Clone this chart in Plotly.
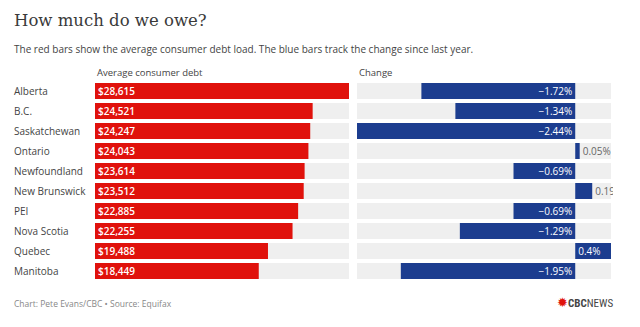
import plotly.graph_objects as go

provinces = ["Alberta", "B.C.", "Saskatchewan", "Ontario", "Newfoundland",
             "New Brunswick", "PEI", "Nova Scotia", "Quebec", "Manitoba"]
debt = [28615, 24521, 24247, 24043, 23614, 23512, 22885, 22255, 19488, 18449]
change = [-1.72, -1.34, -2.44, 0.05, -0.69, 0.19, -0.69, -1.29, 0.4, -1.95]

title = "How much do we owe?"
subtitle = "The red bars show the average consumer debt load. The blue bars track the change since last year."
header_left = "Average consumer debt"
header_right = "Change"
footer = "Chart: Pete Evans/CBC • Source: Equifax"

W, H = 640, 327
RED = "#e0120c"
BLUE = "#1c3d8f"
BG = "#efefef"
FONT = "Open Sans"


def py(y):
    return 1 - y / H


def fmt_pct(v):
    s = f"{abs(v):.2f}".rstrip("0").rstrip(".") if abs(v) * 100 % 10 == 0 else f"{abs(v):.2f}"
    return ("\u2212" if v < 0 else "") + s + "%"


debt_text = [f"${v:,}" for v in debt]
change_text = [fmt_pct(v) for v in change]
change_pos = ["outside" if 0 < v < 0.3 else "inside" for v in change]

cmin, cmax = min(change), max(change)

fig = go.Figure()

# background bars (left)
fig.add_trace(go.Bar(y=provinces, x=[max(debt)] * len(provinces), orientation="h",
                     marker=dict(color=BG, line=dict(width=0)), width=0.8,
                     hoverinfo="skip", xaxis="x", yaxis="y"))
fig.add_trace(go.Bar(y=provinces, x=debt, orientation="h",
                     marker=dict(color=RED, line=dict(width=0)), width=0.8,
                     text=debt_text, textposition="inside", insidetextanchor="start",
                     insidetextfont=dict(color="white", size=10, family=FONT, weight=600),
                     constraintext="none", xaxis="x", yaxis="y"))

# background bars (right)
fig.add_trace(go.Bar(y=provinces, x=[cmax - cmin] * len(provinces), base=cmin,
                     orientation="h", marker=dict(color=BG, line=dict(width=0)), width=0.8,
                     hoverinfo="skip", xaxis="x2", yaxis="y"))
fig.add_trace(go.Bar(y=provinces, x=change, orientation="h",
                     marker=dict(color=BLUE, line=dict(width=0)), width=0.8,
                     text=change_text, textposition=change_pos, insidetextanchor="start",
                     insidetextfont=dict(color="white", size=10, family=FONT),
                     outsidetextfont=dict(color="#666666", size=10, family=FONT),
                     constraintext="none", cliponaxis=True, xaxis="x2", yaxis="y"))

scale = (611 - 357) / (cmax - cmin)
x2_end = 613

annotations = []
for p in provinces:
    annotations.append(dict(x=12 / W, xref="paper", xanchor="left", y=p, yref="y",
                            yanchor="middle", text=p, showarrow=False,
                            font=dict(size=10, color="#444444", family=FONT)))

annotations += [
    dict(x=12 / W, y=py(20), xref="paper", yref="paper", xanchor="left", yanchor="middle",
         text=title, showarrow=False,
         font=dict(size=16.5, color="#3a3a3a", family="DejaVu Serif")),
    dict(x=12 / W, y=py(49), xref="paper", yref="paper", xanchor="left", yanchor="middle",
         text=subtitle, showarrow=False,
         font=dict(size=10, color="#444444", family=FONT)),
    dict(x=95 / W, y=py(72), xref="paper", yref="paper", xanchor="left", yanchor="middle",
         text=header_left, showarrow=False,
         font=dict(size=9.5, color="#444444", family=FONT)),
    dict(x=357 / W, y=py(72), xref="paper", yref="paper", xanchor="left", yanchor="middle",
         text=header_right, showarrow=False,
         font=dict(size=9.5, color="#444444", family=FONT)),
    dict(x=12 / W, y=py(303), xref="paper", yref="paper", xanchor="left", yanchor="middle",
         text=footer, showarrow=False,
         font=dict(size=8.5, color="#888888", family=FONT)),
    dict(x=615 / W, y=py(302), xref="paper", yref="paper", xanchor="right", yanchor="middle",
         text="<span style='color:#e0120c;font-size:13px'>\u2739</span><b>CBC</b>NEWS",
         showarrow=False,
         font=dict(size=11, color="#444444", family="Roboto Condensed, Roboto, sans-serif")),
]

fig.update_layout(
    width=W, height=H,
    margin=dict(l=0, r=0, t=0, b=0),
    paper_bgcolor="white", plot_bgcolor="white",
    barmode="overlay", showlegend=False,
    font=dict(family=FONT),
    xaxis=dict(domain=[95 / W, 349 / W], range=[0, max(debt)], visible=False,
               fixedrange=True),
    xaxis2=dict(domain=[357 / W, x2_end / W],
                range=[cmin, cmin + (x2_end - 357) / scale], visible=False,
                fixedrange=True, anchor="y"),
    yaxis=dict(domain=[py(281), py(81)], autorange="reversed", visible=False,
               categoryorder="array", categoryarray=provinces, fixedrange=True),
    annotations=annotations,
)

fig.write_html("out.html")
